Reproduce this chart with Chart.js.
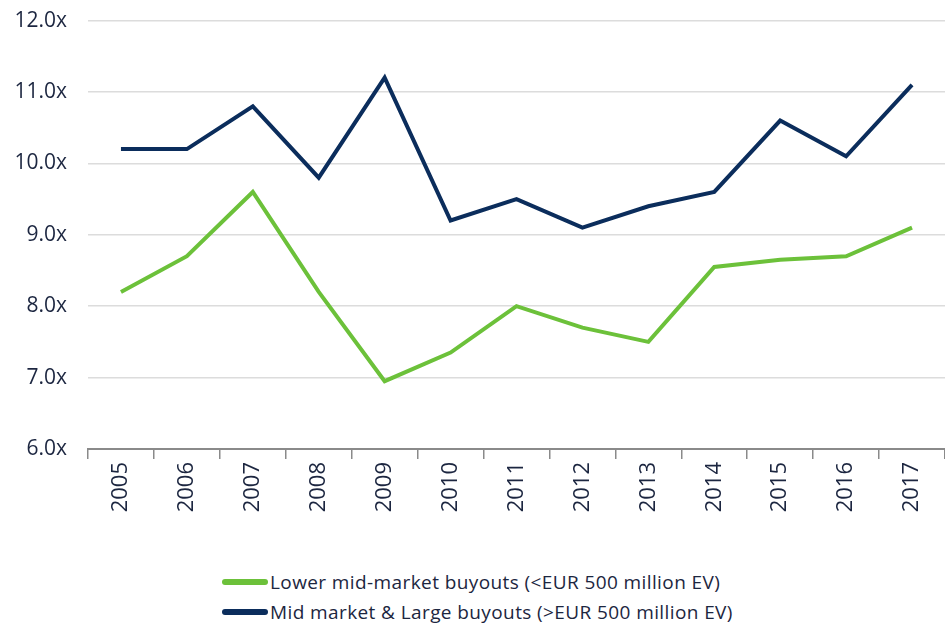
<!DOCTYPE html>
<html>
<head>
<meta charset="utf-8">
<script src="https://cdn.jsdelivr.net/npm/chart.js@4"></script>
<style>
  body { margin: 0; background: #fff; font-family: 'Open Sans', sans-serif; }
  #wrap { position: absolute; left: 0; top: -13px; width: 945px; height: 543px; }
  #legend { position: absolute; left: 222px; top: 567px; }
  .item { display: flex; align-items: center; height: 30px; font-size: 19px; letter-spacing: 0.4px; color: #1c2640; }
  .swatch { width: 46px; height: 6px; border-radius: 3px; margin-right: 2px; }
</style>
</head>
<body>
<div id="wrap"><canvas id="chart" width="945" height="543"></canvas></div>
<div id="legend"></div>
<script>
// values
const years = ['2005', '2006', '2007', '2008', '2009', '2010', '2011', '2012', '2013', '2014', '2015', '2016', '2017']
const lowerMid = [8.2, 8.7, 9.6, 8.2, 6.95, 7.35, 8.0, 7.7, 7.5, 8.55, 8.65, 8.7, 9.1]
const midLarge = [10.2, 10.2, 10.8, 9.8, 11.2, 9.2, 9.5, 9.1, 9.4, 9.6, 10.6, 10.1, 11.1]
const seriesNames = ['Lower mid-market buyouts (<EUR 500 million EV)', 'Mid market & Large buyouts (>EUR 500 million EV)']
const seriesColors = ['#6cc13a', '#0b2d5c']

const ctx = document.getElementById('chart')
new Chart(ctx, {
  type: 'line',
  data: {
    labels: years,
    datasets: [
      { label: seriesNames[0], data: lowerMid, borderColor: seriesColors[0], borderWidth: 4, pointRadius: 0, tension: 0, fill: false },
      { label: seriesNames[1], data: midLarge, borderColor: seriesColors[1], borderWidth: 4, pointRadius: 0, tension: 0, fill: false }
    ]
  },
  options: {
    responsive: false,
    animation: false,
    layout: { padding: { top: 7, right: 0, left: 0, bottom: 0 } },
    plugins: { legend: { display: false }, tooltip: { enabled: false } },
    scales: {
      x: {
        offset: true,
        grid: { offset: true, drawOnChartArea: false, drawTicks: true, tickLength: 10, color: '#8a8a8a', lineWidth: 1.5 },
        border: { color: '#8a8a8a', width: 2 },
        ticks: { color: '#1c2640', font: { family: 'Open Sans', size: 22 }, minRotation: 90, maxRotation: 90, padding: 3 },
        afterFit: s => { s.height = 81 }
      },
      y: {
        min: 6, max: 12,
        ticks: { stepSize: 1, color: '#1c2640', font: { family: 'Open Sans', size: 21 }, padding: 21, callback: v => v.toFixed(1) + 'x' },
        grid: { color: '#dcdcdc', lineWidth: 1.5, drawTicks: false },
        border: { display: false },
        afterFit: s => { s.width = 88 }
      }
    }
  }
})

// html legend built from the series arrays
const legend = document.getElementById('legend')
seriesNames.forEach((name, i) => {
  const row = document.createElement('div')
  row.className = 'item'
  row.innerHTML = `<span class="swatch" style="background:${seriesColors[i]}"></span>`
  row.appendChild(document.createTextNode(name))
  legend.appendChild(row)
})
</script>
</body>
</html>
